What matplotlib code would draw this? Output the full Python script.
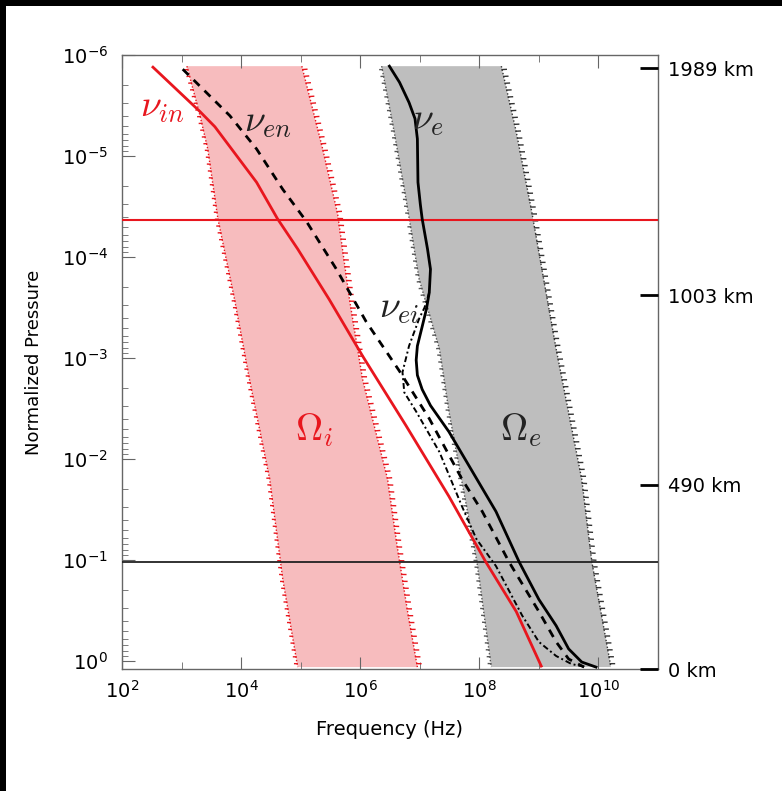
import numpy as np
import matplotlib
matplotlib.use("Agg")
import matplotlib.pyplot as plt
from matplotlib import patheffects
from matplotlib.patches import Rectangle
from matplotlib.ticker import FixedLocator, LogLocator, NullFormatter

plt.rcParams["mathtext.fontset"] = "cm"
plt.rcParams["font.family"] = ["DejaVu Sans"]

# --- data (log10 values) ---
# ion gyrofrequency band (Omega_i)
omi_left_f = 10 ** np.array([3.09, 3.31, 3.44, 3.61, 3.89, 4.14, 4.48, 4.70, 4.95])
omi_left_p = 10 ** np.array([-5.89, -5.40, -5.07, -4.38, -3.58, -2.79, -1.80, -0.81, 0.06])
omi_right_f = 10 ** np.array([5.02, 5.37, 5.62, 5.82, 6.04, 6.46, 6.62, 6.79, 6.96])
omi_right_p = 10 ** np.array([-5.89, -5.07, -4.43, -3.58, -2.79, -1.80, -1.14, -0.51, 0.06])

# electron gyrofrequency band (Omega_e)
ome_left_f = 10 ** np.array([6.36, 6.57, 6.77, 6.99, 7.33, 7.49, 7.70, 7.96, 8.20])
ome_left_p = 10 ** np.array([-5.89, -5.24, -4.57, -3.78, -3.09, -2.47, -1.80, -0.98, 0.06])
ome_right_f = 10 ** np.array([8.37, 8.62, 8.88, 9.09, 9.29, 9.72, 9.89, 10.21])
ome_right_p = 10 ** np.array([-5.89, -5.24, -4.45, -3.75, -3.09, -1.80, -0.98, 0.06])

# collision frequencies
nu_in_f = 10 ** np.array([2.52, 3.31, 3.56, 4.26, 4.61, 4.95, 5.48, 6.04, 6.77, 7.49, 8.11, 8.62, 9.04])
nu_in_p = 10 ** np.array([-5.88, -5.44, -5.29, -4.74, -4.38, -4.08, -3.58, -3.02, -2.33, -1.63, -0.98, -0.49, 0.05])

nu_en_f = 10 ** np.array([3.02, 3.81, 4.26, 4.70, 5.10, 5.60, 6.10, 6.66, 7.16, 7.71, 8.05, 8.50, 9.00, 9.29, 9.50, 9.76])
nu_en_p = 10 ** np.array([-5.86, -5.40, -5.07, -4.67, -4.35, -3.88, -3.36, -2.87, -2.40, -1.80, -1.48, -0.98, -0.49, -0.19, -0.02, 0.06])

nu_e_f = 10 ** np.array([6.49, 6.66, 6.82, 6.92, 6.96, 6.97, 7.01, 7.04, 7.13, 7.18, 7.16, 7.11, 7.04, 6.96,
                         6.94, 6.96, 7.04, 7.18, 7.49, 7.83, 8.28, 8.67, 9.00, 9.29, 9.50, 9.72, 9.96])
nu_e_p = 10 ** np.array([-5.89, -5.73, -5.53, -5.37, -5.17, -4.74, -4.52, -4.38, -4.08, -3.88, -3.65, -3.48,
                         -3.31, -3.12, -2.98, -2.83, -2.69, -2.53, -2.27, -1.93, -1.48, -0.98, -0.61, -0.35,
                         -0.12, 0.01, 0.06])

nu_ei_f = 10 ** np.array([7.16, 7.08, 6.99, 6.82, 6.71, 6.74, 6.94, 7.33, 7.71, 7.95, 8.28, 8.72, 9.00, 9.29, 9.55, 9.79])
nu_ei_p = 10 ** np.array([-3.65, -3.50, -3.39, -3.12, -2.86, -2.66, -2.47, -2.07, -1.53, -1.21, -0.94, -0.45, -0.19, -0.05, 0.03, 0.06])

red_level = 4.3e-5
black_level = 0.105

km_pressure = [1.35e-6, 2.4e-4, 0.018, 1.2]
km_labels = ["1989 km", "1003 km", "490 km", "0 km"]

x_major = [1e2, 1e4, 1e6, 1e8, 1e10]
x_minor = [1e3, 1e5, 1e7, 1e9]
x_labels = [r"$\mathregular{10^{%d}}$" % e for e in (2, 4, 6, 8, 10)]
y_major = [1e-6, 1e-5, 1e-4, 1e-3, 1e-2, 1e-1, 1e0]
y_labels = [r"$\mathregular{10^{%d}}$" % e for e in (-6, -5, -4, -3, -2, -1, 0)]

RED = "#e8161e"
PINK = "#f7bcbe"
GREY = "#bebebe"

fig = plt.figure(figsize=(7.82, 7.91), dpi=100)
ax = fig.add_axes([0.1560, 0.1542, 0.6854, 0.7762])
ax.set_xscale("log")
ax.set_yscale("log")
ax.set_xlim(1e2, 1e11)
ax.set_ylim(1.2, 1e-6)

# bands
ax.fill(np.concatenate([omi_left_f, omi_right_f[::-1]]),
        np.concatenate([omi_left_p, omi_right_p[::-1]]),
        color=PINK, lw=0, zorder=1)
ax.fill(np.concatenate([ome_left_f, ome_right_f[::-1]]),
        np.concatenate([ome_left_p, ome_right_p[::-1]]),
        color=GREY, lw=0, zorder=1)

# dotted, ticked edges of the bands
for f, p, c, ang, ln in [(omi_left_f, omi_left_p, RED, -100, 0.35),
                         (omi_right_f, omi_right_p, RED, 80, 0.6),
                         (ome_left_f, ome_left_p, "#555555", -100, 0.35),
                         (ome_right_f, ome_right_p, "#333333", 80, 0.6)]:
    ax.plot(f, p, color=c, lw=1.0, ls=(0, (1, 1.5)), zorder=2)
    ax.plot(f, p, color=c, lw=1.0, zorder=2,
            path_effects=[patheffects.TickedStroke(angle=ang, spacing=5, length=ln, linewidth=1.0)])

ax.axhline(red_level, color=RED, lw=1.5, zorder=3)
ax.axhline(black_level, color="#222222", lw=1.3, zorder=3)

ax.plot(nu_in_f, nu_in_p, color=RED, lw=2, zorder=4)
ax.plot(nu_en_f, nu_en_p, color="k", lw=2, ls=(0, (3, 2.5)), zorder=4)
ax.plot(nu_ei_f, nu_ei_p, color="k", lw=1.4, ls=(0, (3, 1.5, 1, 1.5)), zorder=4)
ax.plot(nu_e_f, nu_e_p, color="k", lw=2, zorder=4)

# labels
ax.text(470, 3.3e-6, r"$\nu_{in}$", color=RED, fontsize=27, ha="center", va="center", zorder=5)
ax.text(2.8e4, 4.6e-6, r"$\nu_{en}$", color="#222222", fontsize=27, ha="center", va="center", zorder=5)
ax.text(1.35e7, 4.4e-6, r"$\nu_{e}$", color="#222222", fontsize=27, ha="center", va="center", zorder=5)
ax.text(4.6e6, 3.2e-4, r"$\nu_{ei}$", color="#222222", fontsize=27, ha="center", va="center", zorder=5)
ax.text(1.7e5, 5.2e-3, r"$\Omega_{i}$", color=RED, fontsize=27, ha="center", va="center", zorder=5)
ax.text(5.0e8, 5.2e-3, r"$\Omega_{e}$", color="#222222", fontsize=27, ha="center", va="center", zorder=5)

# axes styling
for s in ax.spines.values():
    s.set_color("#666666")
    s.set_linewidth(1)
ax.xaxis.set_major_locator(FixedLocator(x_major))
ax.xaxis.set_minor_locator(FixedLocator(x_minor))
ax.set_xticklabels(x_labels)
ax.xaxis.set_minor_formatter(NullFormatter())
ax.yaxis.set_major_locator(FixedLocator(y_major))
ax.yaxis.set_minor_locator(LogLocator(base=10, subs=np.arange(2, 10)))
ax.set_yticklabels(y_labels)
ax.yaxis.set_minor_formatter(NullFormatter())
ax.tick_params(axis="x", which="both", direction="in", top=True, bottom=True, color="#666666")
ax.tick_params(axis="x", which="major", length=9, pad=8, labelsize=14)
ax.tick_params(axis="x", which="minor", length=5)
ax.tick_params(axis="y", which="both", direction="in", left=True, right=False, color="#666666")
ax.tick_params(axis="y", which="major", length=9, pad=10, labelsize=14)
ax.tick_params(axis="y", which="minor", length=4.5)

ax.set_xlabel("Frequency (Hz)", fontsize=14)
ax.xaxis.set_label_coords(0.5, -0.083)
ax.set_ylabel("Normalized Pressure", fontsize=13)
ax.yaxis.set_label_coords(-0.147, 0.5)

ax2 = ax.twinx()
ax2.set_yscale("log")
ax2.set_ylim(ax.get_ylim())
ax2.yaxis.set_major_locator(FixedLocator(km_pressure))
ax2.set_yticklabels(km_labels)
ax2.yaxis.set_minor_locator(FixedLocator([]))
ax2.tick_params(axis="y", which="major", direction="in", length=13, width=2, color="k",
                pad=7, labelsize=14)
for s in ax2.spines.values():
    s.set_visible(False)

# black strips along the top and left edges
fig.add_artist(Rectangle((0, 1 - 6 / 791), 1, 6 / 791, transform=fig.transFigure, color="k", lw=0))
fig.add_artist(Rectangle((0, 0), 6 / 782, 1, transform=fig.transFigure, color="k", lw=0))

fig.savefig("out.png", dpi=100)
